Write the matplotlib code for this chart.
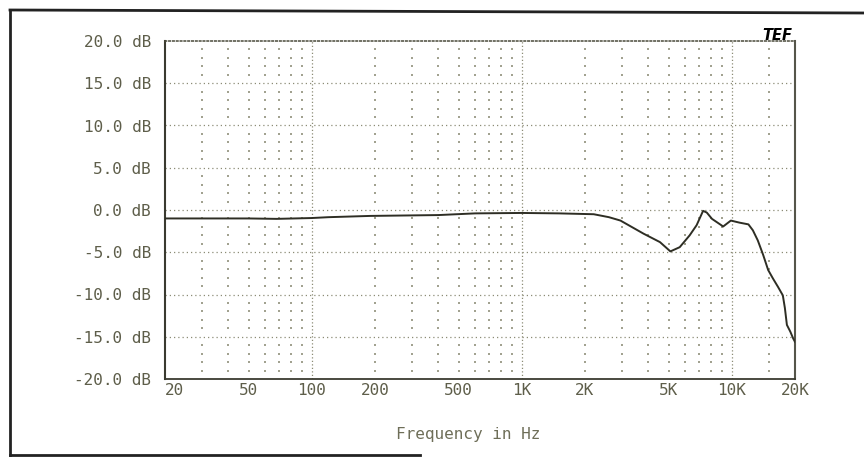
import matplotlib
matplotlib.use("Agg")
import matplotlib.pyplot as plt
import numpy as np

# Response curve (frequency in Hz, level in dB)
freq = [20, 50, 68, 100, 120, 190, 400, 600, 1000, 1500, 2200, 2600, 2950,
        3800, 4550, 5100, 5650, 6300, 6800, 7300, 7600, 8050, 9100, 9900,
        10900, 12000, 12600, 13300, 14100, 14900, 15700, 16600, 17500,
        17900, 18300, 19000, 19600, 20000]
level = [-1.0, -1.0, -1.05, -0.95, -0.85, -0.7, -0.6, -0.4, -0.35, -0.4,
         -0.5, -0.85, -1.25, -2.8, -3.8, -4.9, -4.4, -3.0, -1.8, -0.1, -0.3,
         -1.05, -1.95, -1.25, -1.5, -1.7, -2.4, -3.6, -5.3, -7.1, -8.1,
         -9.1, -10.1, -11.6, -13.6, -14.4, -15.2, -15.6]

xtick_pos = [20, 50, 100, 200, 500, 1000, 2000, 5000, 10000, 20000]
xtick_lab = ["20", "50", "100", "200", "500", "1K", "2K", "5K", "10K", "20K"]
ytick_pos = [20, 15, 10, 5, 0, -5, -10, -15, -20]
ytick_lab = ["20.0 dB", "15.0 dB", "10.0 dB", "5.0 dB", "0.0 dB",
             "-5.0 dB", "-10.0 dB", "-15.0 dB", "-20.0 dB"]
major_x = [100, 1000, 10000]
minor_x = [30, 40, 50, 60, 70, 80, 90, 200, 300, 400, 500, 600, 700, 800,
           900, 2000, 3000, 4000, 5000, 6000, 7000, 8000, 9000, 15000]

text_col = "#5e5e4a"
grid_col = "#8c8c76"
dot_col = "#a2a290"
mono = "DejaVu Sans Mono"

fig = plt.figure(figsize=(8.64, 4.59), dpi=100)
ax = fig.add_axes([165/864, 1 - 379/459, 630/864, 338/459])
ax.set_xscale("log")
ax.set_xlim(20, 20000)
ax.set_ylim(-20, 20)

# major dotted grid
for v in ytick_pos[1:-1]:
    ax.axhline(v, color=grid_col, lw=0.9, ls=(0, (1, 2.4)), zorder=1)
for f in major_x:
    ax.axvline(f, color=grid_col, lw=0.9, ls=(0, (1, 1.8)), zorder=1)

# minor grid: dots only at 1 dB steps on minor frequencies
minor_y = [v for v in range(-19, 20) if v % 5 != 0]
mx, my = np.meshgrid(minor_x, minor_y)
ax.scatter(mx.ravel(), my.ravel(), s=1.3, marker="s", color=dot_col,
           linewidths=0, zorder=1)

ax.plot(freq, level, color="#2e2e24", lw=1.4, zorder=3)

# spines
for side in ["left", "right"]:
    ax.spines[side].set_color("#3a3a30")
    ax.spines[side].set_linewidth(1.5)
ax.spines["right"].set_color("#55554a")
ax.spines["bottom"].set_color("#3a3a30")
ax.spines["bottom"].set_linewidth(1.3)
ax.spines["bottom"].set_linestyle((0, (2, 1)))
ax.spines["top"].set_color("#4a4a3a")
ax.spines["top"].set_linewidth(1.1)
ax.spines["top"].set_linestyle((0, (1, 1.5)))

ax.set_yticks(ytick_pos)
ax.set_yticklabels(ytick_lab, family=mono, fontsize=11.5, color=text_col)
ax.set_xticks(xtick_pos)
ax.set_xticklabels(xtick_lab, family=mono, fontsize=11.5, color=text_col)
ax.xaxis.set_minor_locator(matplotlib.ticker.NullLocator())
ax.tick_params(axis="y", length=0, pad=10)
ax.tick_params(axis="x", length=0, pad=3)
ax.get_xticklabels()[0].set_horizontalalignment("left")

fig.text(468/864, 1 - 435/459, "Frequency in Hz", family=mono, fontsize=11.5,
         color="#6e6e58", ha="center", va="center")

# TEF logo
fig.text(777/864, 1 - 35/459, "TEF", fontsize=10.5, fontweight="bold",
         fontstyle="italic", color="black", ha="center", va="center")

# outer frame
fig.add_artist(plt.Line2D([10/864, 1.0], [1 - 10/459, 1 - 13/459],
                          transform=fig.transFigure, color="#222222", lw=2))
fig.add_artist(plt.Line2D([10/864, 10/864], [1 - 10/459, 1 - 455/459],
                          transform=fig.transFigure, color="#222222", lw=2))
fig.add_artist(plt.Line2D([10/864, 420/864], [1 - 455/459, 1 - 455/459],
                          transform=fig.transFigure, color="#222222", lw=2))

fig.savefig("out.png", dpi=100, facecolor="white")
